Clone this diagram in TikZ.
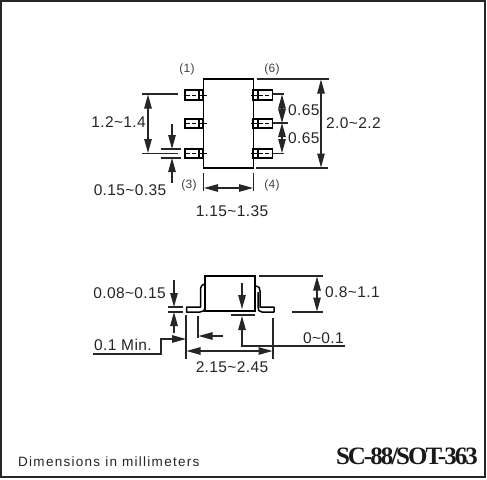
\documentclass[tikz,border=0pt]{standalone}
\usepackage{fontspec}
\setmainfont{Liberation Sans}[LetterSpace=2.5]
\newfontfamily\plainfont{Liberation Sans}[LetterSpace=9.5]
\newfontfamily\titlefont{Liberation Serif}[LetterSpace=-8]
\usetikzlibrary{arrows.meta}
\tikzset{
  x=1pt,y=-1pt,
  part/.style={line width=1.9pt,black},
  thin part/.style={line width=1.5pt,black},
  dimline/.style={line width=1.1pt,black!85},
  both/.style={dimline,{Triangle[length=14pt,width=7.5pt]}-{Triangle[length=14pt,width=7.5pt]}},
  tip/.style={dimline,-{Triangle[length=14pt,width=7.5pt]}},
  lab/.style={font=\fontsize{15.5}{15}\selectfont,inner sep=0pt,text=black!85},
  pin/.style={font=\fontsize{12}{12}\selectfont,inner sep=0pt,text=black!75},
}
\newcommand{\leftlead}[1]{
  \draw[part] (185,#1-4.7) rectangle (203,#1+4.7);
  \draw[thin part] (199,#1-4.7) -- (199,#1+4.7);
  \draw[line width=.9pt,dash pattern=on 4pt off 2pt] (186,#1) -- (198,#1);
  \draw[line width=.9pt] (198,#1) -- (207,#1);
}
\newcommand{\rightlead}[1]{
  \draw[part] (253,#1-4.7) rectangle (272.5,#1+4.7);
  \draw[thin part] (258,#1-4.7) -- (258,#1+4.7);
  \draw[line width=.9pt,dash pattern=on 4pt off 2pt] (259,#1) -- (271,#1);
  \draw[line width=.9pt] (251,#1) -- (258,#1);
}
\begin{document}
\begin{tikzpicture}
\useasboundingbox (0,0) rectangle (487,479);
\fill[white] (0,0) rectangle (487,479);
\draw[line width=2.4pt,black!85] (1,1) rectangle (484.8,477);
% top view
\leftlead{95}\leftlead{123.7}\leftlead{153.5}
\rightlead{95}\rightlead{123.7}\rightlead{153.5}
\draw[part] (203.5,79) rectangle (253.5,168);
\draw[dimline] (142,94) -- (178,94) (142,153.5) -- (178,153.5);
\draw[both] (148,94.5) -- (148,153);
\draw[dimline] (161,149) -- (181,149) (161,158) -- (181,158);
\draw[tip] (172,124) -- (172,149);
\draw[tip] (172,183) -- (172,158);
\draw[dimline] (203.5,173) -- (203.5,191) (253.5,173) -- (253.5,191);
\draw[both] (204,188) -- (253,188);
\draw[dimline] (257,79) -- (329,79) (256,168) -- (328,168);
\draw[both] (321,79.5) -- (321,167.5);
\draw[dimline] (273,94) -- (284,94) (273,123) -- (288,123) (273,153.5) -- (284,153.5);
\draw[both] (282,94.5) -- (282,123);
\draw[both] (282,123) -- (282,153);
\node[pin] (p1) at (187,69) {(1)};
\node[pin] (p6) at (272,69) {(6)};
\node[pin] (p3) at (189,185) {(3)};
\node[pin] (p4) at (272,185) {(4)};
\node[lab,anchor=east] (a) at (146,122) {1.2\char`~1.4};
\node[lab] (b) at (130,190) {0.15\char`~0.35};
\node[lab] (c) at (232,211) {1.15\char`~1.35};
\node[lab,anchor=west] (d) at (288,110) {0.65};
\node[lab,anchor=west] (e) at (288,138.5) {0.65};
\node[lab,anchor=west] (f) at (326,123) {2.0\char`~2.2};
% side view
\draw[part] (205,311) -- (205,276) -- (255,276) -- (255,311) -- cycle;
\draw[thin part,line join=round] (205,284) .. controls (201,285) and (200.5,287) .. (200.5,291) -- (200.5,307) -- (186.5,307) -- (186.5,312) -- (200,312) .. controls (203,312) and (205,311) .. (205,306);
\draw[thin part,line join=round] (256,286) .. controls (259,286) and (260,288) .. (260,291) -- (260,307) -- (274,307) -- (274,312) -- (262,312) .. controls (259,312) and (258,310) .. (258,307) -- (258,292);
\draw[dimline] (259,276) -- (323,276) (292,312) -- (323,312);
\draw[both] (317,276.5) -- (317,311.5);
\draw[dimline] (168,307) -- (183,307) (168,312) -- (183,312);
\draw[tip] (174,280) -- (174,307);
\draw[tip] (174,333) -- (174,312);
\draw[dimline] (186,315) -- (186,359) (198,316) -- (198,338) (273,318) -- (273,359) (231,315) -- (255,315);
\draw[both] (186.5,351) -- (272.5,351);
\draw[tip] (93,354) -- (161,354) -- (161,339) -- (186,339);
\draw[tip] (223,336) -- (198.5,336);
\draw[tip] (242,283) -- (242,309);
\draw[tip] (345,346) -- (242,346) -- (242,316);
\node[lab,anchor=east] (g) at (166,293) {0.08\char`~0.15};
\node[lab,anchor=west] (h) at (94,345) {0.1 Min.};
\node[lab,anchor=west] (i) at (325,292) {0.8\char`~1.1};
\node[lab,anchor=east] (j) at (344,338) {0\char`~0.1};
\node[lab] (k) at (232,367) {2.15\char`~2.45};
\node[font=\fontsize{13.5}{13}\selectfont\plainfont,inner sep=0pt,anchor=west,text=black!85] (m) at (18,462) {Dimensions in millimeters};
\node[font=\fontsize{25}{25}\selectfont\titlefont\bfseries,inner sep=0pt,anchor=east,text=black!90] (t) at (478,456) {SC-88/SOT-363};
\end{tikzpicture}
\end{document}
